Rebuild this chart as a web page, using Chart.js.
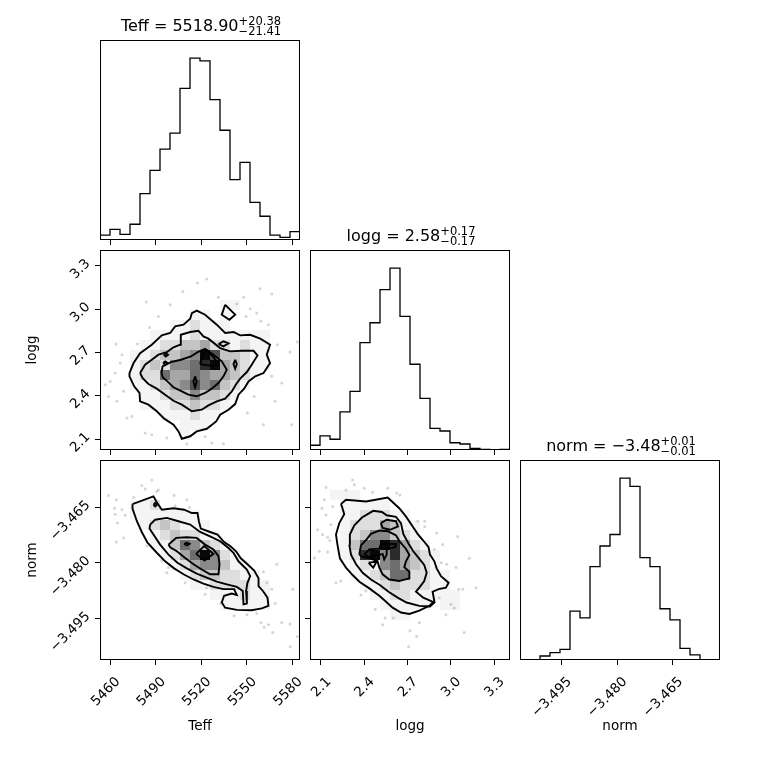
<!DOCTYPE html>
<html>
<head>
<meta charset="utf-8">
<script src="https://cdn.jsdelivr.net/npm/chart.js@4.4.1/dist/chart.umd.min.js"></script>
<style>
  html, body { margin: 0; padding: 0; background: #fff; }
  #fig { position: relative; width: 760px; height: 760px; overflow: hidden; }
  #fig canvas { position: absolute; }
</style>
</head>
<body>
<div id="fig"></div>
<script>
// axis ranges and ticks
const teffRange = [5453.4, 5585.1];
const loggRange = [2.024, 3.409];
const normRange = [-3.5062, -3.4523];
const teffTicks = [5460, 5490, 5520, 5550, 5580];
const loggTicks = [2.1, 2.4, 2.7, 3.0, 3.3];
const normTicks = [-3.495, -3.480, -3.465];

// 1D histograms, 20 bins each
const teffCounts = [1.8, 4, 2.1, 5.9, 17.4, 26.1, 34, 40, 56.8, 68.1, 67.1, 52.6, 41.1, 22.6, 29.1, 14.1, 8.9, 1.8, 1, 3.1];
const loggCounts = [2.3, 6.8, 5.2, 18.5, 28.4, 52, 61.6, 77.6, 88, 64.7, 41.5, 25, 10.5, 9.2, 3.5, 2.9, 0.8, 0.3, 0, 0.3];
const normCounts = [0, 0, 1.8, 3.3, 4.8, 22.1, 19.1, 42.3, 51.6, 56.8, 82.3, 78.6, 46.3, 42.3, 23.2, 18.2, 5.3, 2.3, 0, 0];

// 2D density (20x20, top row first, 0 = empty .. 9 = darkest)
const densTeffLogg = [
  "00000000000000000000",
  "00000000000000000000",
  "00000000000000000000",
  "00000000000000000000",
  "00000000000000000000",
  "00000000000011000000",
  "00000000011010000000",
  "00000001121110000000",
  "00000111121111111000",
  "00001122334221211000",
  "00011233459733211000",
  "00012325568943211000",
  "00012264465443210000",
  "00011234575632100000",
  "00001123353321000000",
  "00001112232210000000",
  "00000011121100000000",
  "00000000111000000000",
  "00000000100000000000",
  "00000000000000000000"
];
const densTeffNorm = [
  "00000000000000000000",
  "00000000000000000000",
  "00000000000000000000",
  "00000000000000000000",
  "00011200000000000000",
  "00011111110000000000",
  "00001232111000000000",
  "00000123221100000000",
  "00000113653210000000",
  "00000012469521000000",
  "00000001245531100000",
  "00000000123322110000",
  "00000000011222211000",
  "00000000000111211000",
  "00000000000011111000",
  "00000000000000000000",
  "00000000000000000000",
  "00000000000000000000",
  "00000000000000000000",
  "00000000000000000000"
];
const densLoggNorm = [
  "00000000000000000000",
  "00000000000000000000",
  "00000000000000000000",
  "00111000000000000000",
  "00011111000000000000",
  "00011222110000000000",
  "00012224311000000000",
  "00012355321000000000",
  "00013669842100000000",
  "00012895843210000000",
  "00001215643210000000",
  "00001123662211000000",
  "00000112322211000000",
  "00000011221111100000",
  "00000001111101100000",
  "00000000110000000000",
  "00000000000000000000",
  "00000000000000000000",
  "00000000000000000000",
  "00000000000000000000"
];
const shadeAlpha = [0, 0.045, 0.13, 0.23, 0.35, 0.46, 0.57, 0.69, 0.83, 0.97];

// contour loops [x, y]
const contoursTeffLogg = [
  [[5472.8,2.557],[5475.5,2.626],[5479.8,2.695],[5487.5,2.753],[5494.1,2.818],[5499.6,2.834],[5502.9,2.880],[5508.4,2.892],[5512.8,2.933],[5513.9,2.972],[5517.1,2.989],[5522.6,2.961],[5530.3,2.892],[5535.8,2.834],[5541.3,2.841],[5545.7,2.818],[5552.3,2.822],[5558.9,2.795],[5565.4,2.753],[5563.2,2.684],[5565.4,2.626],[5561.1,2.557],[5555.6,2.534],[5551.2,2.499],[5548.3,2.448],[5544.6,2.407],[5542.4,2.342],[5538.0,2.303],[5532.5,2.268],[5529.9,2.222],[5523.7,2.171],[5517.1,2.153],[5512.8,2.119],[5507.3,2.102],[5505.1,2.153],[5501.8,2.199],[5495.7,2.241],[5490.8,2.292],[5485.3,2.338],[5479.8,2.361],[5479.4,2.419],[5475.9,2.465],[5472.8,2.534]],
  [[5535.8,3.030],[5542.4,2.961],[5538.6,2.926],[5533.6,2.961]],
  [[5479.8,2.557],[5483.1,2.615],[5487.5,2.649],[5491.9,2.684],[5497.4,2.702],[5501.8,2.735],[5506.2,2.753],[5506.6,2.822],[5512.8,2.841],[5518.2,2.850],[5521.5,2.811],[5524.8,2.795],[5532.5,2.730],[5539.1,2.707],[5546.8,2.711],[5554.5,2.711],[5557.1,2.679],[5553.3,2.615],[5550.1,2.564],[5545.7,2.518],[5543.1,2.481],[5540.2,2.430],[5535.8,2.380],[5530.3,2.361],[5524.8,2.333],[5520.4,2.303],[5513.9,2.292],[5507.3,2.338],[5501.8,2.365],[5496.3,2.407],[5490.8,2.449],[5485.3,2.481],[5481.5,2.522]],
  [[5531.4,2.758],[5534.7,2.776],[5538.0,2.762],[5534.7,2.742]],
  [[5493.9,2.557],[5494.6,2.603],[5500.1,2.633],[5506.7,2.649],[5513.3,2.672],[5517.7,2.702],[5522.6,2.725],[5528.1,2.684],[5533.6,2.638],[5536.9,2.580],[5534.7,2.534],[5531.4,2.488],[5527.0,2.449],[5522.6,2.419],[5517.1,2.396],[5511.6,2.407],[5507.3,2.430],[5501.8,2.458],[5497.8,2.499],[5494.8,2.527]],
  [[5519.3,2.619],[5521.5,2.695],[5524.2,2.712],[5528.6,2.661],[5530.8,2.610],[5524.8,2.610]],
  [[5495.4,2.684],[5496.7,2.695],[5498.2,2.684],[5496.7,2.672]],
  [[5494.9,2.626],[5496.4,2.637],[5497.9,2.626],[5496.4,2.615]],
  [[5516.0,2.534],[5517.1,2.499],[5516.0,2.458],[5514.9,2.499]],
  [[5542.4,2.649],[5543.5,2.619],[5542.4,2.587],[5541.3,2.619]]
];
const contoursTeffNorm = [
  [[5474.8,-3.4642],[5488.6,-3.4621],[5490.8,-3.4637],[5494.1,-3.4657],[5501.8,-3.4653],[5508.8,-3.4657],[5513.9,-3.4666],[5517.6,-3.4666],[5518.5,-3.4688],[5519.8,-3.4708],[5525.9,-3.4717],[5530.8,-3.4724],[5535.1,-3.4744],[5539.1,-3.4755],[5543.0,-3.4769],[5546.1,-3.4788],[5550.5,-3.4804],[5554.9,-3.4821],[5557.8,-3.4842],[5557.8,-3.4863],[5560.7,-3.4876],[5563.7,-3.4894],[5564.3,-3.4916],[5559.9,-3.4923],[5553.3,-3.4928],[5543.5,-3.4927],[5535.8,-3.4921],[5533.6,-3.4907],[5535.1,-3.4889],[5540.2,-3.4883],[5543.5,-3.4887],[5541.7,-3.4871],[5534.7,-3.4871],[5528.1,-3.4865],[5521.5,-3.4856],[5515.0,-3.4845],[5508.4,-3.4831],[5502.2,-3.4815],[5496.3,-3.4796],[5490.8,-3.4773],[5484.7,-3.4746],[5480.9,-3.4717],[5477.7,-3.4688],[5474.8,-3.4654]],
  [[5486.4,-3.4697],[5489.7,-3.4684],[5497.4,-3.4679],[5505.1,-3.4688],[5512.8,-3.4697],[5519.3,-3.4717],[5525.9,-3.4729],[5532.5,-3.4742],[5538.0,-3.4760],[5541.3,-3.4773],[5544.6,-3.4796],[5550.1,-3.4818],[5552.3,-3.4836],[5550.5,-3.4854],[5549.6,-3.4876],[5550.1,-3.4910],[5547.9,-3.4912],[5547.4,-3.4876],[5543.5,-3.4865],[5536.9,-3.4858],[5530.3,-3.4851],[5523.7,-3.4840],[5517.1,-3.4829],[5510.6,-3.4815],[5504.4,-3.4800],[5498.5,-3.4778],[5493.0,-3.4751],[5488.6,-3.4724],[5486.0,-3.4708]],
  [[5498.5,-3.4751],[5503.5,-3.4733],[5510.6,-3.4731],[5517.1,-3.4733],[5522.6,-3.4751],[5528.1,-3.4764],[5531.4,-3.4782],[5532.1,-3.4804],[5531.4,-3.4831],[5525.9,-3.4831],[5520.4,-3.4818],[5515.0,-3.4804],[5509.5,-3.4787],[5504.0,-3.4769],[5499.6,-3.4758]],
  [[5516.7,-3.4776],[5522.0,-3.4755],[5528.1,-3.4776],[5522.2,-3.4794]],
  [[5508.8,-3.4749],[5510.6,-3.4746],[5512.3,-3.4749],[5510.6,-3.4753]],
  [[5488.6,-3.4644],[5489.7,-3.4639],[5490.8,-3.4644],[5489.7,-3.4648]]
];
const contoursLoggNorm = [
  [[2.238,-3.4642],[2.273,-3.4630],[2.412,-3.4635],[2.562,-3.4624],[2.642,-3.4653],[2.688,-3.4675],[2.735,-3.4702],[2.769,-3.4722],[2.808,-3.4740],[2.845,-3.4758],[2.855,-3.4778],[2.885,-3.4796],[2.901,-3.4815],[2.931,-3.4836],[2.984,-3.4854],[2.965,-3.4867],[2.915,-3.4871],[2.873,-3.4878],[2.885,-3.4903],[2.850,-3.4916],[2.781,-3.4929],[2.712,-3.4938],[2.654,-3.4934],[2.596,-3.4921],[2.545,-3.4903],[2.504,-3.4889],[2.435,-3.4869],[2.366,-3.4851],[2.319,-3.4833],[2.273,-3.4813],[2.231,-3.4788],[2.215,-3.4753],[2.204,-3.4724],[2.227,-3.4693],[2.261,-3.4669],[2.245,-3.4648]],
  [[2.296,-3.4751],[2.300,-3.4724],[2.331,-3.4699],[2.384,-3.4678],[2.462,-3.4660],[2.522,-3.4663],[2.555,-3.4672],[2.619,-3.4676],[2.654,-3.4693],[2.670,-3.4722],[2.707,-3.4749],[2.739,-3.4769],[2.776,-3.4787],[2.815,-3.4806],[2.832,-3.4827],[2.815,-3.4849],[2.785,-3.4865],[2.758,-3.4878],[2.808,-3.4894],[2.885,-3.4907],[2.855,-3.4918],[2.781,-3.4916],[2.693,-3.4907],[2.631,-3.4894],[2.568,-3.4878],[2.508,-3.4860],[2.446,-3.4845],[2.389,-3.4827],[2.343,-3.4804],[2.308,-3.4778]],
  [[2.365,-3.4778],[2.377,-3.4753],[2.416,-3.4737],[2.446,-3.4722],[2.504,-3.4713],[2.562,-3.4715],[2.619,-3.4726],[2.647,-3.4744],[2.688,-3.4762],[2.712,-3.4779],[2.688,-3.4797],[2.677,-3.4812],[2.712,-3.4824],[2.712,-3.4842],[2.642,-3.4849],[2.573,-3.4845],[2.527,-3.4831],[2.504,-3.4813],[2.492,-3.4796],[2.442,-3.4788],[2.396,-3.4785]],
  [[2.515,-3.4693],[2.555,-3.4684],[2.619,-3.4688],[2.633,-3.4702],[2.578,-3.4711],[2.527,-3.4706]],
  [[2.400,-3.4778],[2.435,-3.4764],[2.504,-3.4762],[2.515,-3.4749],[2.619,-3.4749],[2.615,-3.4758],[2.555,-3.4762],[2.555,-3.4778],[2.538,-3.4791],[2.527,-3.4776],[2.481,-3.4782],[2.435,-3.4785]],
  [[2.430,-3.4800],[2.485,-3.4797],[2.462,-3.4813]]
];

// samples outside the contours
const pointsTeffLogg = [[5464.1,2.758],[5463.4,2.557],[5466.7,2.626],[5460.1,2.499],[5456.8,2.476],[5468.9,2.430],[5464.5,2.361],[5459.0,2.395],[5471.1,2.245],[5474.4,2.257],[5483.1,2.141],[5487.5,2.130],[5497.4,2.107],[5510.6,2.065],[5522.6,2.118],[5527.0,2.072],[5534.7,2.068],[5561.0,2.199],[5550.5,2.280],[5554.9,2.395],[5566.5,2.534],[5573.1,2.488],[5579.7,2.199],[5578.6,2.702],[5583.4,2.772],[5566.5,3.104],[5558.8,3.141],[5547.9,3.081],[5556.6,2.972],[5552.3,3.002],[5543.5,3.035],[5531.4,3.081],[5523.7,3.208],[5517.6,3.180],[5507.9,3.122],[5499.6,3.030],[5491.9,2.949],[5483.8,3.049],[5486.0,2.873],[5564.3,2.892],[5570.2,2.753],[5559.3,2.915],[5549.6,2.949],[5568.7,2.361],[5467.8,2.684],[5478.1,2.758]];
const pointsTeffNorm = [[5459.0,-3.4619],[5464.1,-3.4630],[5463.0,-3.4653],[5463.4,-3.4669],[5467.8,-3.4657],[5464.9,-3.4693],[5464.1,-3.4744],[5470.0,-3.4672],[5480.9,-3.4592],[5483.1,-3.4601],[5487.5,-3.4577],[5491.9,-3.4604],[5502.2,-3.4619],[5510.6,-3.4630],[5502.9,-3.4646],[5512.3,-3.4651],[5563.2,-3.4854],[5561.0,-3.4824],[5569.8,-3.4804],[5566.5,-3.4871],[5568.7,-3.4910],[5580.3,-3.4871],[5556.6,-3.4937],[5559.3,-3.4961],[5561.5,-3.4974],[5564.3,-3.4967],[5567.2,-3.4988],[5573.1,-3.4961],[5578.6,-3.4965],[5583.4,-3.4999],[5578.6,-3.5026],[5550.1,-3.4940],[5541.7,-3.4943],[5468.9,-3.4733],[5484.2,-3.4755],[5494.1,-3.4794],[5498.5,-3.4813],[5497.4,-3.4827],[5509.5,-3.4854],[5523.7,-3.4867],[5522.6,-3.4885],[5532.9,-3.4910],[5475.5,-3.4624],[5490.8,-3.4608]];
const pointsLoggNorm = [[2.135,-3.4597],[2.123,-3.4630],[2.107,-3.4653],[2.181,-3.4648],[2.135,-3.4671],[2.169,-3.4697],[2.077,-3.4711],[2.111,-3.4724],[2.146,-3.4731],[2.162,-3.4740],[2.088,-3.4769],[2.054,-3.4787],[2.146,-3.4771],[2.204,-3.4854],[2.238,-3.4849],[2.319,-3.4577],[2.331,-3.4590],[2.273,-3.4604],[2.400,-3.4599],[2.458,-3.4610],[2.562,-3.4599],[2.624,-3.4612],[2.647,-3.4617],[2.769,-3.4688],[2.818,-3.4688],[2.818,-3.4702],[2.901,-3.4720],[3.046,-3.4729],[2.885,-3.4764],[2.942,-3.4751],[2.970,-3.4804],[2.933,-3.4800],[3.035,-3.4813],[3.127,-3.4788],[3.081,-3.4871],[3.053,-3.4871],[3.173,-3.4867],[3.000,-3.4912],[3.023,-3.4922],[2.919,-3.4894],[2.965,-3.4940],[3.092,-3.4988],[2.781,-3.4961],[2.716,-3.4983],[2.762,-3.4999],[2.707,-3.5026],[2.601,-3.4949],[2.476,-3.4925],[2.545,-3.4949],[2.527,-3.4967],[2.411,-3.4876],[2.377,-3.4887]];

const FONT = "'DejaVu Sans', sans-serif";
const tickFont = { family: FONT, size: 13.5 };
const labelFont = { family: FONT, size: 13.5 };

const fmtTeff = v => String(v);
const fmtLogg = v => v.toFixed(1);
const fmtNorm = v => v.toFixed(3).replace('-', '\u2212');

const cornerPlugin = {
  id: 'corner',
  beforeDatasetsDraw(chart, args, opts) {
    if (!opts.density) return;
    const { ctx } = chart;
    const xs = chart.scales.x, ys = chart.scales.y;
    const nx = opts.density[0].length, ny = opts.density.length;
    const dx = (xs.max - xs.min) / nx, dy = (ys.max - ys.min) / ny;
    ctx.save();
    opts.density.forEach((row, r) => {
      for (let c = 0; c < nx; c++) {
        const s = +row[c];
        if (!s) continue;
        const x0 = Math.round(xs.getPixelForValue(xs.min + c * dx));
        const x1 = Math.round(xs.getPixelForValue(xs.min + (c + 1) * dx));
        const y0 = Math.round(ys.getPixelForValue(ys.max - r * dy));
        const y1 = Math.round(ys.getPixelForValue(ys.max - (r + 1) * dy));
        ctx.fillStyle = 'rgba(0,0,0,' + shadeAlpha[s] + ')';
        ctx.fillRect(x0, y0, x1 - x0, y1 - y0);
      }
    });
    ctx.restore();
  },
  afterDraw(chart, args, opts) {
    const { ctx, chartArea: a } = chart;
    ctx.save();
    ctx.strokeStyle = '#000';
    ctx.lineWidth = 1;
    ctx.strokeRect(Math.round(a.left) + 0.5, Math.round(a.top) + 0.5, Math.round(a.width) - 1, Math.round(a.height) - 1);
    if (opts.title) {
      const [main, sup, sub] = opts.title;
      ctx.fillStyle = '#000';
      ctx.textBaseline = 'alphabetic';
      ctx.textAlign = 'left';
      ctx.font = '16px ' + FONT;
      const wm = ctx.measureText(main).width;
      ctx.font = '11.5px ' + FONT;
      const ws = Math.max(ctx.measureText(sup).width, ctx.measureText(sub).width);
      const x0 = (a.left + a.right) / 2 - (wm + ws) / 2 + 1;
      const base = a.top - 9;
      ctx.font = '16px ' + FONT;
      ctx.fillText(main, x0, base);
      ctx.font = '11.5px ' + FONT;
      ctx.fillText(sup, x0 + wm, base - 6);
      ctx.fillText(sub, x0 + wm, base + 3.5);
    }
    ctx.restore();
  }
};

function axis(range, ticks, fmt, showLabels, titleText, size, isX) {
  return {
    type: 'linear',
    min: range[0],
    max: range[1],
    position: isX ? 'bottom' : 'left',
    afterBuildTicks: s => { s.ticks = ticks.map(v => ({ value: v })); },
    afterFit: s => { if (isX) s.height = size; else s.width = size; },
    ticks: {
      display: showLabels,
      autoSkip: false,
      minRotation: 45,
      maxRotation: 45,
      color: '#000',
      font: tickFont,
      padding: isX ? 9 : 7,
      labelOffset: isX ? 8 : -4,
      callback: fmt
    },
    grid: { drawOnChartArea: false, drawTicks: ticks.length > 0, tickLength: 5, color: '#000', lineWidth: 1 },
    border: { display: false },
    title: { display: !!titleText, text: titleText || '', color: '#000', font: labelFont, padding: { top: 24, bottom: 25 } }
  };
}

function addPanel(box, leftCol, bottomRow, datasets, xAxis, yAxis, extra) {
  const L = leftCol ? 100 : 20, T = 40, R = 20, B = bottomRow ? 100 : 20;
  const cv = document.createElement('canvas');
  cv.width = box[2] + L + R;
  cv.height = box[3] + T + B;
  cv.style.left = (box[0] - L) + 'px';
  cv.style.top = (box[1] - T) + 'px';
  cv.style.width = cv.width + 'px';
  cv.style.height = cv.height + 'px';
  document.getElementById('fig').appendChild(cv);
  return new Chart(cv.getContext('2d'), {
    type: 'scatter',
    data: { datasets },
    plugins: [cornerPlugin],
    options: {
      responsive: false,
      animation: false,
      devicePixelRatio: 1,
      layout: { padding: { top: T, right: R, left: 0, bottom: 0 } },
      plugins: { legend: { display: false }, tooltip: { enabled: false }, corner: extra },
      scales: {
        x: axis(xAxis[0], xAxis[1], xAxis[2], bottomRow, bottomRow ? xAxis[3] : '', B, true),
        y: axis(yAxis[0], yAxis[1], yAxis[2], leftCol && yAxis[1].length > 0, leftCol ? yAxis[3] : '', L, false)
      }
    }
  });
}

function histDataset(range, counts) {
  const w = (range[1] - range[0]) / counts.length;
  const pts = [{ x: range[0], y: 0 }];
  counts.forEach((c, i) => pts.push({ x: range[0] + i * w, y: c }));
  pts.push({ x: range[1], y: counts[counts.length - 1] });
  pts.push({ x: range[1], y: 0 });
  // 'before': horizontal run at the previous level, then vertical jump
  return [{ data: pts, showLine: true, stepped: 'before', borderColor: '#000', borderWidth: 1.3, pointRadius: 0, fill: false }];
}

function pairDatasets(contours, points) {
  const sets = contours.map(loop => ({
    data: loop.concat([loop[0]]).map(p => ({ x: p[0], y: p[1] })),
    showLine: true, borderColor: '#000', borderWidth: 1.9, pointRadius: 0, fill: false, tension: 0, order: 0
  }));
  sets.push({
    data: points.map(p => ({ x: p[0], y: p[1] })),
    showLine: false, pointRadius: 1.5, pointBorderWidth: 0, backgroundColor: 'rgba(150,150,150,0.4)', order: 1
  });
  return sets;
}

const histY = counts => [[0, Math.max(...counts) * 1.1], [], null, ''];
const teffAx = [teffRange, teffTicks, fmtTeff, 'Teff'];
const loggAx = [loggRange, loggTicks, fmtLogg, 'logg'];
const normAx = [normRange, normTicks, fmtNorm, 'norm'];

addPanel([100, 40, 200, 200], false, false, histDataset(teffRange, teffCounts), teffAx, histY(teffCounts),
  { title: ['Teff = 5518.90', '+20.38', '\u221221.41'] });
addPanel([100, 250, 200, 200], true, false, pairDatasets(contoursTeffLogg, pointsTeffLogg), teffAx, loggAx,
  { density: densTeffLogg });
addPanel([310, 250, 200, 200], false, false, histDataset(loggRange, loggCounts), loggAx, histY(loggCounts),
  { title: ['logg = 2.58', '+0.17', '\u22120.17'] });
addPanel([100, 460, 200, 200], true, true, pairDatasets(contoursTeffNorm, pointsTeffNorm), teffAx, normAx,
  { density: densTeffNorm });
addPanel([310, 460, 200, 200], false, true, pairDatasets(contoursLoggNorm, pointsLoggNorm), loggAx, normAx,
  { density: densLoggNorm });
addPanel([520, 460, 200, 200], false, true, histDataset(normRange, normCounts), normAx, histY(normCounts),
  { title: ['norm = \u22123.48', '+0.01', '\u22120.01'] });
</script>
</body>
</html>
